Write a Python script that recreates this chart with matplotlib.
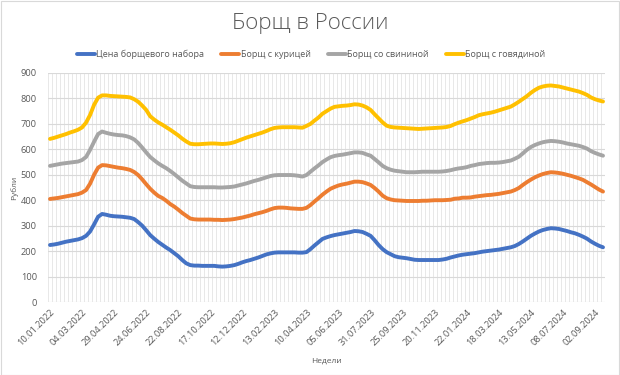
import matplotlib
matplotlib.use("Agg")
import matplotlib.pyplot as plt
from matplotlib.patches import Rectangle
import numpy as np

plt.rcParams['font.family'] = ['Open Sans', 'DejaVu Sans']

title = "Борщ в России"
series_names = ["Цена борщевого набора", "Борщ с курицей", "Борщ со свининой", "Борщ с говядиной"]
colors = ["#4472C4", "#ED7D31", "#A5A5A5", "#FFC000"]

tick_labels = ["10.01.2022", "04.03.2022", "29.04.2022", "24.06.2022", "22.08.2022",
               "17.10.2022", "12.12.2022", "13.02.2023", "10.04.2023", "05.06.2023",
               "31.07.2023", "25.09.2023", "20.11.2023", "22.01.2024", "18.03.2024",
               "13.05.2024", "08.07.2024", "02.09.2024"]

nabor = [224, 226, 229, 233, 237, 240, 243, 246, 251, 260, 277, 305, 335, 346, 343, 339, 337, 336, 335, 333,
         331, 326, 314, 300, 282, 263, 249, 236, 225, 214, 204, 192, 180, 165, 152, 145, 143, 143, 142, 142,
         142, 142, 140, 139, 140, 142, 145, 150, 156, 161, 165, 170, 175, 181, 187, 191, 194, 195, 195, 195,
         195, 195, 194, 194, 196, 208, 222, 235, 248, 254, 259, 263, 266, 269, 272, 275, 279, 278, 275, 268,
         260, 243, 224, 208, 196, 188, 180, 176, 174, 172, 169, 166, 165, 165, 165, 165, 165, 165, 167, 170,
         175, 179, 183, 186, 188, 190, 192, 195, 198, 200, 202, 204, 206, 209, 212, 215, 220, 228, 238, 249,
         260, 269, 277, 283, 287, 290, 289, 287, 283, 279, 274, 270, 264, 257, 249, 238, 229, 221, 215]

kuritsa = [405, 407, 409, 412, 415, 418, 421, 424, 430, 440, 465, 500, 528, 538, 537, 534, 531, 528, 526, 523,
           519, 511, 499, 482, 463, 445, 430, 417, 409, 398, 385, 375, 363, 350, 339, 328, 325, 324, 324, 324,
           324, 323, 323, 322, 323, 324, 326, 329, 332, 336, 340, 345, 349, 353, 358, 364, 369, 371, 371, 370,
           368, 367, 366, 366, 370, 381, 395, 408, 422, 434, 445, 452, 458, 462, 465, 469, 473, 473, 471, 466,
           460, 448, 434, 418, 408, 403, 400, 399, 398, 397, 397, 397, 397, 398, 398, 399, 400, 400, 400, 401,
           402, 406, 407, 410, 410, 411, 414, 416, 418, 420, 421, 423, 425, 428, 431, 434, 440, 448, 460, 471,
           481, 490, 497, 503, 507, 510, 509, 507, 504, 500, 496, 491, 486, 480, 471, 462, 452, 442, 434]

svinina = [535, 538, 541, 544, 546, 548, 550, 552, 558, 570, 598, 630, 660, 670, 665, 661, 658, 656, 655, 652,
           647, 639, 625, 607, 588, 570, 557, 545, 535, 526, 515, 503, 490, 477, 466, 455, 452, 451, 451, 451,
           451, 451, 450, 450, 451, 452, 454, 458, 462, 466, 471, 476, 480, 485, 490, 495, 498, 499, 499, 499,
           499, 498, 496, 493, 499, 512, 525, 537, 550, 560, 569, 574, 577, 579, 582, 585, 588, 588, 586, 580,
           575, 562, 549, 535, 526, 520, 516, 514, 512, 510, 510, 510, 511, 512, 512, 512, 512, 512, 513, 515,
           518, 522, 525, 527, 530, 535, 538, 542, 544, 546, 547, 547, 548, 550, 553, 556, 563, 571, 584, 598,
           609, 617, 623, 628, 631, 633, 632, 630, 627, 623, 620, 617, 614, 609, 603, 593, 586, 580, 575]

govyadina = [641, 645, 650, 655, 660, 666, 671, 677, 686, 705, 735, 775, 803, 812, 812, 810, 809, 808, 807, 806,
             804, 797, 787, 772, 755, 730, 717, 706, 697, 687, 677, 666, 655, 642, 631, 622, 620, 620, 621, 622,
             623, 623, 622, 621, 622, 624, 628, 634, 640, 646, 651, 656, 661, 666, 672, 679, 684, 686, 687, 687,
             687, 687, 686, 685, 692, 700, 713, 725, 740, 750, 760, 767, 769, 771, 772, 774, 777, 776, 772, 765,
             755, 738, 722, 706, 693, 688, 686, 685, 684, 683, 682, 681, 680, 681, 682, 683, 684, 685, 686, 688,
             692, 699, 705, 710, 715, 721, 727, 734, 738, 741, 744, 748, 753, 758, 763, 768, 777, 787, 798, 809,
             822, 833, 842, 847, 850, 851, 849, 847, 843, 839, 835, 831, 827, 821, 814, 804, 797, 792, 788]

label_step = 8
text_color = "#595959"
grid_color = "#D9D9D9"

fig = plt.figure(figsize=(6.2, 3.75), dpi=100)
ax = fig.add_axes([48 / 620, 1 - 302 / 375, (605 - 48) / 620, (302 - 73) / 375])

all_series = [nabor, kuritsa, svinina, govyadina]
n = len(nabor)
x = np.arange(n)
for vals, name, c in zip(all_series, series_names, colors):
    ax.plot(x, vals, color=c, lw=2.8, label=name, solid_capstyle='round', solid_joinstyle='round')

ax.set_xlim(-0.5, n - 0.5)
ax.set_ylim(0, 900)
ax.set_yticks(np.arange(0, 901, 100))
ax.set_xticks(np.arange(0, n, label_step)[:len(tick_labels)])
ax.set_xticklabels(tick_labels, rotation=45, ha='right', rotation_mode='anchor')
ax.set_xticks(np.arange(-0.5, n, 1), minor=True)
ax.grid(axis='y', which='major', color=grid_color, lw=0.8)
ax.grid(axis='x', which='minor', color="#E4E4E4", lw=0.6)
ax.set_axisbelow(True)
for s in ax.spines.values():
    s.set_visible(False)
ax.tick_params(axis='both', which='both', length=0, colors=text_color, labelsize=6.7)
ax.tick_params(axis='y', pad=8)
ax.tick_params(axis='x', pad=4)

ax.set_ylabel("Рубли", fontsize=6, color=text_color, labelpad=2)
ax.set_xlabel("Недели", fontsize=6, color=text_color, labelpad=7)

fig.text(0.5, 1 - 23 / 375, title, ha='center', va='center', fontsize=16, color=text_color, fontweight='light')

leg = fig.legend(loc='center', bbox_to_anchor=(311 / 620, 1 - 54 / 375), ncol=4, frameon=False,
                 fontsize=6.5, handlelength=2.0, handletextpad=0.15, columnspacing=1.9,
                 borderpad=0, borderaxespad=0)
for t in leg.get_texts():
    t.set_color(text_color)

fig.patches.append(Rectangle((0.001, 0.001), 0.997, 0.997, transform=fig.transFigure,
                             fill=False, edgecolor=grid_color, lw=0.8))

fig.savefig("out.png", dpi=100, facecolor='white')
